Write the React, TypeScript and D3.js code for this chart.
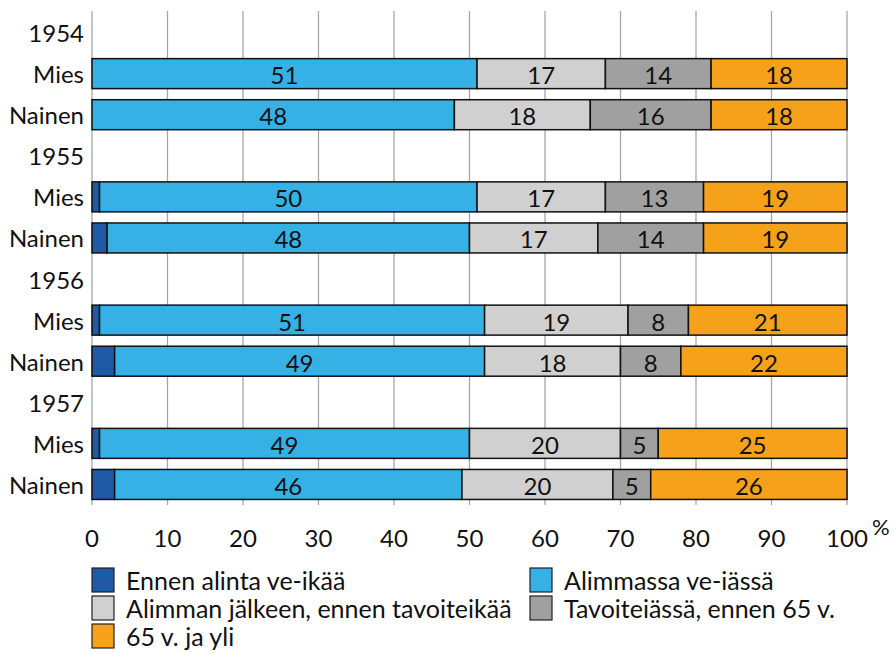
import * as d3 from 'd3';
import { useEffect, useRef } from 'react';

const rows = ['1954', 'Mies', 'Nainen', '1955', 'Mies', 'Nainen', '1956', 'Mies', 'Nainen', '1957', 'Mies', 'Nainen'];
const barRows = [1, 2, 4, 5, 7, 8, 10, 11]; // rivit joissa on palkki
const series = ['Ennen alinta ve-ikää', 'Alimmassa ve-iässä', 'Alimman jälkeen, ennen tavoiteikää', 'Tavoiteiässä, ennen 65 v.', '65 v. ja yli'];
const colors = ['#1F5AA6', '#36B1E5', '#D0D0D0', '#A0A0A0', '#F5A11A'];

const ennenAlinta = [0, 0, 1, 2, 1, 3, 1, 3];
const alimmassa = [51, 48, 50, 48, 51, 49, 49, 46];
const alimmanJalkeen = [17, 18, 17, 17, 19, 18, 20, 20];
const tavoiteiassa = [14, 16, 13, 14, 8, 8, 5, 5];
const yli65 = [18, 18, 19, 19, 21, 22, 25, 26];
const xTicks = [0, 10, 20, 30, 40, 50, 60, 70, 80, 90, 100];

const W = 894, H = 653;
const FONT = 'Lato, "Open Sans", sans-serif';

export default function App() {
  const ref = useRef<SVGSVGElement>(null);

  useEffect(() => {
    if (!ref.current) return;
    const svg = d3.select(ref.current);
    svg.selectAll('*').remove();

    const x = d3.scaleLinear().domain([0, 100]).range([92, 847]);
    const y = d3.scaleBand<number>().domain(d3.range(rows.length)).range([12, 505]).paddingInner(0.27).paddingOuter(0.135);

    // ruudukko
    svg.append('g').selectAll('line').data(xTicks).join('line')
      .attr('x1', d => x(d)).attr('x2', d => x(d))
      .attr('y1', 11).attr('y2', 505)
      .attr('stroke', '#a6a6a6').attr('stroke-width', 1.3);

    // rivien nimet
    svg.append('g').selectAll('text').data(rows).join('text')
      .attr('x', 84).attr('y', (_, i) => y(i)! + y.bandwidth() / 2)
      .attr('text-anchor', 'end').attr('dominant-baseline', 'central')
      .style('font', `24px ${FONT}`).attr('fill', '#111')
      .text(d => d);

    const table = barRows.map((r, i) => ({ r, vals: [ennenAlinta[i], alimmassa[i], alimmanJalkeen[i], tavoiteiassa[i], yli65[i]] }));
    const keys = [0, 1, 2, 3, 4];
    const stacked = d3.stack<{ r: number; vals: number[] }, number>().keys(keys).value((d, k) => d.vals[k])(table);

    stacked.forEach((layer, k) => {
      const g = svg.append('g');
      const segs = layer.filter(s => s[1] - s[0] > 0);
      g.selectAll('rect').data(segs).join('rect')
        .attr('x', s => x(s[0])).attr('width', s => x(s[1]) - x(s[0]))
        .attr('y', s => y(s.data.r)!).attr('height', y.bandwidth())
        .attr('fill', colors[k]).attr('stroke', '#111').attr('stroke-width', 1.5);
      g.selectAll('text').data(segs.filter(s => k > 0 && s[1] - s[0] >= 5)).join('text')
        .attr('x', s => (x(s[0]) + x(s[1])) / 2).attr('y', s => y(s.data.r)! + y.bandwidth() / 2 + 1)
        .attr('text-anchor', 'middle').attr('dominant-baseline', 'central')
        .style('font', `24px ${FONT}`).attr('fill', '#111')
        .text(s => String(s[1] - s[0]));
    });

    // x-akseli
    svg.append('g').selectAll('text').data(xTicks).join('text')
      .attr('x', d => x(d)).attr('y', 537)
      .attr('text-anchor', 'middle').attr('dominant-baseline', 'central')
      .style('font', `24px ${FONT}`).attr('fill', '#111')
      .text(d => String(d));
    svg.append('text').attr('x', 872).attr('y', 526).attr('dominant-baseline', 'central')
      .style('font', `22px ${FONT}`).attr('fill', '#111').text('%');

    // selite
    const legendPos = [[92, 580], [530, 580], [92, 608], [530, 608], [92, 636]];
    const lg = svg.append('g').selectAll('g').data(series).join('g')
      .attr('transform', (_, i) => `translate(${legendPos[i][0]},${legendPos[i][1]})`);
    lg.append('rect').attr('x', 0).attr('y', -12).attr('width', 22).attr('height', 24)
      .attr('fill', (_, i) => colors[i]).attr('stroke', '#222').attr('stroke-width', 1.2);
    lg.append('text').attr('x', 34).attr('y', 0).attr('dominant-baseline', 'central')
      .style('font', `25px ${FONT}`).attr('fill', '#111')
      .text(d => d);
  }, []);

  return <svg ref={ref} width={W} height={H} style={{ position: 'absolute', left: 0, top: 0, display: 'block' }} />;
}
